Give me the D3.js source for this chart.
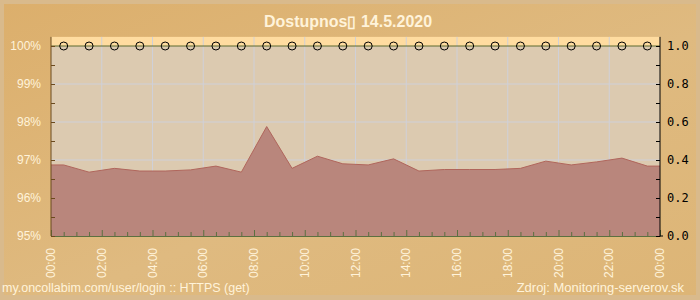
<!DOCTYPE html>
<html>
<head>
<meta charset="utf-8">
<script src="https://cdn.jsdelivr.net/npm/d3@7"></script>
<style>
  body { margin: 0; padding: 0; }
  svg { display: block; }
</style>
</head>
<body>
<div id="chart"></div>
<script>
// hourly availability (%) measured at HH:30
const hours = [0.5, 1.5, 2.5, 3.5, 4.5, 5.5, 6.5, 7.5, 8.5, 9.5, 10.5, 11.5,
               12.5, 13.5, 14.5, 15.5, 16.5, 17.5, 18.5, 19.5, 20.5, 21.5, 22.5, 23.5];
const availability = [96.87, 96.68, 96.78, 96.71, 96.71, 96.74, 96.84, 96.68, 97.88, 96.78, 97.10, 96.90,
                      96.87, 97.03, 96.71, 96.75, 96.75, 96.75, 96.78, 96.97, 96.87, 96.95, 97.05, 96.84];
// status markers on the right axis (1.0 = up)
const status = [1, 1, 1, 1, 1, 1, 1, 1, 1, 1, 1, 1, 1, 1, 1, 1, 1, 1, 1, 1, 1, 1, 1, 1];
const xTickLabels = ["00:00", "02:00", "04:00", "06:00", "08:00", "10:00", "12:00",
                     "14:00", "16:00", "18:00", "20:00", "22:00", "00:00"];
const leftTicks = [95, 96, 97, 98, 99, 100];
const rightTicks = [0, 0.2, 0.4, 0.6, 0.8, 1.0];

const svgWidth = 700, svgHeight = 300;
const margin = { top: 46, right: 40, bottom: 64, left: 51 };
const width = svgWidth - margin.left - margin.right;
const height = svgHeight - margin.top - margin.bottom;
const labelFont = "Liberation Sans, Arial, sans-serif";
const cream = "#fff3da";

const s = d3.select("#chart").append("svg")
    .attr("width", svgWidth)
    .attr("height", svgHeight);

const defs = s.append("defs");
const bg = defs.append("linearGradient").attr("id", "bg")
    .attr("x1", 0).attr("y1", 0).attr("x2", 1).attr("y2", 1);
bg.append("stop").attr("offset", "0%").attr("stop-color", "#dcaf6c");
bg.append("stop").attr("offset", "55%").attr("stop-color", "#dfba80");
bg.append("stop").attr("offset", "100%").attr("stop-color", "#ddb576");

// frame + background
s.append("rect").attr("width", svgWidth).attr("height", svgHeight).attr("fill", "#d9ba8c");
s.append("rect").attr("x", 4).attr("y", 4).attr("width", svgWidth - 8).attr("height", svgHeight - 9)
    .attr("fill", "url(#bg)");

const xScale = d3.scaleLinear().domain([0, 24]).range([0, width]);
const yScale = d3.scaleLinear().domain([95, 100]).range([height, 0]);
const yRight = d3.scaleLinear().domain([0, 1]).range([height, 0]);

const svg = s.append("g")
    .attr("transform", "translate(" + margin.left + "," + margin.top + ")");

// plot background, light band above 100%
svg.append("rect")
    .attr("x", 0).attr("y", yScale(100.24))
    .attr("width", width).attr("height", yScale(95) - yScale(100.24))
    .attr("fill", "#ffdca0");
svg.append("rect")
    .attr("x", 0).attr("y", yScale(100))
    .attr("width", width).attr("height", yScale(95) - yScale(100))
    .attr("fill", "#dccab0");

// grid
svg.append("g")
    .selectAll("line")
    .data(d3.range(2, 24, 2))
    .enter().append("line")
    .attr("x1", d => xScale(d)).attr("x2", d => xScale(d))
    .attr("y1", yScale(100.24)).attr("y2", height)
    .attr("stroke", "#cfd0d8").attr("stroke-width", 1);
svg.append("g")
    .selectAll("line")
    .data([96, 97, 98, 99])
    .enter().append("line")
    .attr("x1", 0).attr("x2", width)
    .attr("y1", d => yScale(d)).attr("y2", d => yScale(d))
    .attr("stroke", "#cfd0d8").attr("stroke-width", 1);

// area of availability, held flat to the plot edges
const areaData = [{ h: 0, v: availability[0] }]
    .concat(hours.map((h, i) => ({ h: h, v: availability[i] })))
    .concat([{ h: 24, v: availability[availability.length - 1] }]);

const area = d3.area()
    .x(d => xScale(d.h))
    .y0(height)
    .y1(d => yScale(d.v));
const line = d3.line()
    .x(d => xScale(d.h))
    .y(d => yScale(d.v));

svg.append("path")
    .datum(areaData)
    .attr("fill", "#b8837a")
    .attr("fill-opacity", 0.97)
    .attr("d", area);
svg.append("path")
    .datum(areaData)
    .attr("fill", "none")
    .attr("stroke", "#b0665c")
    .attr("stroke-width", 1)
    .attr("d", line);

// status line + markers
svg.append("line")
    .attr("x1", 0).attr("x2", width)
    .attr("y1", yRight(1)).attr("y2", yRight(1))
    .attr("stroke", "#5c6a30").attr("stroke-width", 1);
svg.append("g")
    .selectAll("circle")
    .data(status)
    .enter().append("circle")
    .attr("cx", (d, i) => xScale(hours[i]))
    .attr("cy", d => yRight(d))
    .attr("r", 4)
    .attr("fill", "none")
    .attr("stroke", "#000000")
    .attr("stroke-width", 1);

// bottom axis with minor ticks every 30 min
svg.append("g")
    .attr("transform", "translate(0," + height + ")")
    .call(d3.axisTop(xScale)
        .tickValues(d3.range(0, 24.01, 0.5))
        .tickSize(4)
        .tickFormat(""))
    .call(g => {
        g.select(".domain").attr("stroke", "#5c7040");
        g.selectAll(".tick line")
            .attr("stroke", "#5c7040")
            .attr("y2", d => (d % 2 === 0 ? -6 : -4));
    });

svg.append("g")
    .selectAll("text")
    .data(xTickLabels)
    .enter().append("text")
    .attr("transform", (d, i) => "translate(" + (xScale(i * 2) + 4) + "," + (height + 12) + ") rotate(-90)")
    .attr("text-anchor", "end")
    .attr("font-family", labelFont)
    .attr("font-size", "12px")
    .attr("fill", cream)
    .text(d => d);

// left axis
svg.append("g")
    .call(d3.axisRight(yScale)
        .tickValues(d3.range(95, 100.01, 0.5))
        .tickSize(4)
        .tickFormat(""))
    .call(g => {
        g.select(".domain").attr("d", "M0," + yScale(100.24) + "V" + height).attr("stroke", "#6b4a1e");
        g.selectAll(".tick line").attr("stroke", "#6b4a1e");
    });
svg.append("g")
    .selectAll("text")
    .data(leftTicks)
    .enter().append("text")
    .attr("x", -10)
    .attr("y", d => yScale(d) + 4)
    .attr("text-anchor", "end")
    .attr("font-family", labelFont)
    .attr("font-size", "12px")
    .attr("fill", cream)
    .text(d => d + "%");

// right axis
svg.append("g")
    .attr("transform", "translate(" + width + ",0)")
    .call(d3.axisLeft(yRight)
        .tickValues(d3.range(0, 1.01, 0.1))
        .tickSize(4)
        .tickFormat(""))
    .call(g => {
        g.select(".domain").attr("d", "M0," + yScale(100.24) + "V" + height + "H3").attr("stroke", "#000000");
        g.selectAll(".tick line").attr("stroke", "#000000");
    });
svg.append("g")
    .selectAll("text")
    .data(rightTicks)
    .enter().append("text")
    .attr("x", width + 7)
    .attr("y", d => yRight(d) + 4)
    .attr("font-family", "DejaVu Sans Mono, monospace")
    .attr("font-size", "12px")
    .attr("fill", "#000000")
    .text(d => d3.format(".1f")(d));

// title + footer
s.append("text")
    .attr("x", 348).attr("y", 27)
    .attr("text-anchor", "middle")
    .attr("font-family", labelFont)
    .attr("font-weight", "bold")
    .attr("font-size", "16px")
    .attr("fill", cream)
    .text("Dostupnos\u25AF 14.5.2020");

s.append("text")
    .attr("x", 2).attr("y", 292)
    .attr("font-family", labelFont)
    .attr("font-size", "12.5px")
    .attr("fill", cream)
    .text("my.oncollabim.com/user/login :: HTTPS (get)");

s.append("text")
    .attr("x", 684).attr("y", 292)
    .attr("text-anchor", "end")
    .attr("font-family", labelFont)
    .attr("font-size", "13px")
    .attr("fill", cream)
    .text("Zdroj: Monitoring-serverov.sk");
</script>
</body>
</html>
